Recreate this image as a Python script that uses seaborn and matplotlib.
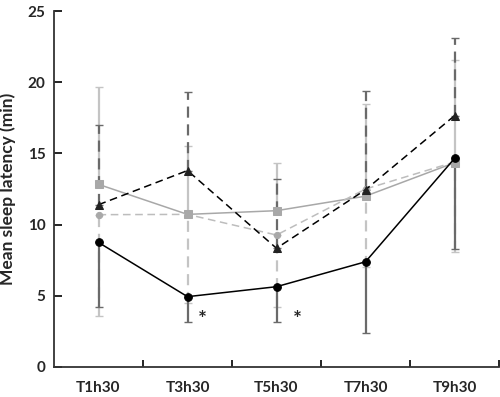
import matplotlib
matplotlib.use("Agg")
import matplotlib.pyplot as plt
import seaborn as sns
import pandas as pd
from matplotlib.ticker import FixedLocator, NullFormatter

sns.set_style("white")
plt.rcParams['font.family'] = ['Lato', 'DejaVu Sans']

times = ["T1h30", "T3h30", "T5h30", "T7h30", "T9h30"]

# black solid / circles (error shown downward)
s1_mean = [8.75, 4.94, 5.64, 7.39, 14.65]
s1_sd = [4.56, 1.76, 2.50, 4.98, 6.39]

# black dashed / triangles (error shown upward)
s2_mean = [11.4, 13.8, 8.34, 12.45, 17.65]
s2_sd = [5.6, 5.5, 4.9, 6.95, 5.47]

# grey solid / squares (error shown upward)
s3_mean = [12.83, 10.72, 10.98, 12.0, 14.35]
s3_sd = [6.87, 4.78, 3.32, 6.45, 7.25]

# grey dashed / small circles (error shown downward)
s4_mean = [10.7, 10.72, 9.27, 12.5, 14.4]
s4_sd = [7.1, 6.25, 5.04, 5.46, 6.33]

dark_bar = "#6a6a6a"
light_bar = "#c4c4c4"
light_line = "#a8a8a8"
light_line2 = "#bdbdbd"

fig = plt.figure(figsize=(5.0, 3.97), dpi=100)
ax = fig.add_axes([0.108, 0.0756, 0.89, 0.8964])

dash = (0, (5, 3))
series = [
    # mean, sd, direction, line color, line style, marker, marker size, marker color, bar color, bar style, z
    (s3_mean, s3_sd, "up", light_line, "-", "s", 5.5, light_line, light_bar, "-", 2),
    (s4_mean, s4_sd, "down", light_line2, dash, "o", 4.5, light_line, light_bar, dash, 2),
    (s2_mean, s2_sd, "up", "black", dash, "^", 5.5, "#222222", dark_bar, dash, 3),
    (s1_mean, s1_sd, "down", "black", "-", "o", 5.5, "black", dark_bar, "-", 4),
]

for mean, sd, d, lc, ls, mk, ms, mc, bc, bls, z in series:
    df = pd.DataFrame({"time": times, "latency": mean})
    zeros = [0] * len(sd)
    yerr = [zeros, sd] if d == "up" else [sd, zeros]
    _, caps, bars = ax.errorbar(df["time"], df["latency"], yerr=yerr, fmt="none",
                                ecolor=bc, elinewidth=1.6, capsize=3.2,
                                capthick=1.0, zorder=z)
    for b in bars:
        b.set_linestyle(bls)

for mean, sd, d, lc, ls, mk, ms, mc, bc, bls, z in series:
    df = pd.DataFrame({"time": times, "latency": mean})
    sns.lineplot(data=df, x="time", y="latency", ax=ax, color=lc,
                 linestyle=ls, linewidth=1.1, marker=mk, markersize=ms,
                 markerfacecolor=mc, markeredgecolor=mc, zorder=z + 5,
                 legend=False)

ax.text(0.12 + 1, 3.3, "*", fontsize=15, fontweight="bold", ha="left", va="center")
ax.text(0.18 + 2, 3.3, "*", fontsize=15, fontweight="bold", ha="left", va="center")

ax.set_xlim(-0.5, 4.5)
ax.set_ylim(0, 25)
ax.set_yticks([0, 5, 10, 15, 20, 25])
ax.xaxis.set_minor_locator(FixedLocator([0.5, 1.5, 2.5, 3.5, 4.5]))
ax.xaxis.set_minor_formatter(NullFormatter())
ax.tick_params(axis="x", which="major", length=0, pad=10, labelsize=11)
ax.tick_params(axis="x", which="minor", direction="in", length=5, width=1.2,
               color="black", bottom=True)
ax.tick_params(axis="y", which="major", direction="in", length=6, width=1.2,
               color="black", left=True, pad=6, labelsize=11)
for lab in ax.get_xticklabels() + ax.get_yticklabels():
    lab.set_fontweight("bold")

ax.set_xlabel("")
ax.set_ylabel("Mean sleep latency (min)", fontsize=12.5, fontweight="bold")
ax.yaxis.set_label_coords(-0.085, 0.5)

for s in ["top", "right"]:
    ax.spines[s].set_visible(False)
for s in ["left", "bottom"]:
    ax.spines[s].set_color("#333333")
    ax.spines[s].set_linewidth(1.3)

fig.savefig("out.png", dpi=100)
